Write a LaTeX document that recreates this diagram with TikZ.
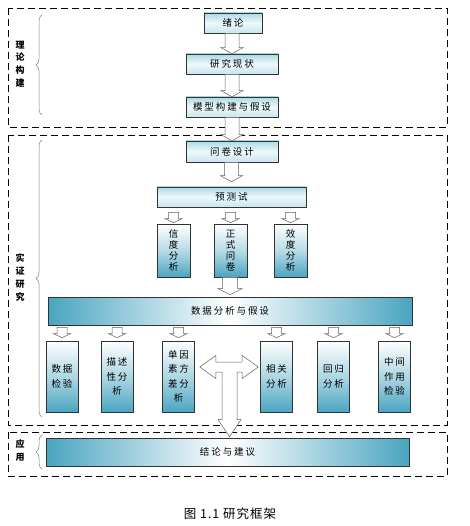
\documentclass[tikz,border=0pt]{standalone}
\usepackage{fontspec}
\newfontfamily\cjk[LetterSpace=20]{Noto Sans CJK SC}
\newfontfamily\cjkcap{Noto Sans CJK SC}
\newfontfamily\cjkcaption[LetterSpace=8]{Noto Sans CJK SC}
\usetikzlibrary{calc,decorations.pathreplacing}
\definecolor{teal1}{HTML}{4AA5C1}
\definecolor{lb1}{HTML}{ADD9E5}
\definecolor{lb2}{HTML}{EEF8FB}
\definecolor{lb3}{HTML}{C6E6EE}
\definecolor{edge}{HTML}{333333}
\definecolor{arrowgray}{HTML}{606060}
\tikzset{
  topbox/.style={draw=edge, line width=0.6pt, inner sep=0pt, top color=lb1, bottom color=lb3, middle color=lb2, font=\cjk\fontsize{9.5}{11}\selectfont},
  tallbox/.style={draw=edge, line width=0.6pt, inner sep=0pt, top color=white, bottom color=teal1, middle color=white!60!teal1, align=center, minimum width=33pt, font=\cjk\fontsize{9.5}{11}\selectfont},
  lowbox/.style={draw=edge, line width=0.6pt, inner sep=0pt, top color=white, bottom color=teal1, middle color=white!55!teal1, align=center, minimum width=32pt, minimum height=71pt, font=\cjk\fontsize{9.5}{14.5}\selectfont},
  widebox/.style={draw=edge, line width=0.6pt, inner sep=0pt, left color=teal1, right color=teal1, middle color=white, font=\cjk\fontsize{9.5}{11}\selectfont},
  groupbox/.style={draw=black, line width=0.8pt, dash pattern=on 7pt off 4pt},
  sidelabel/.style={align=center, font=\cjkcap\bfseries\fontsize{9}{12.7}\selectfont},
  bracestyle/.style={draw=gray, line width=0.5pt, decorate, decoration={brace, amplitude=6pt}},
  barrowstyle/.style={draw=arrowgray, fill=white, line width=0.5pt, line join=miter},
}
% #1 source, #2 target, #3 start gap, #4 end gap, #5 half shaft, #6 half head, #7 head length
\newcommand\barrow[7]{%
  \draw[barrowstyle] let \p1=(#1.south), \p2=(#2.north) in
    (\x2-#5pt,\y1-#3pt) -- (\x2-#5pt,\y2+#4pt+#7pt) -- (\x2-#6pt,\y2+#4pt+#7pt) -- (\x2,\y2+#4pt)
    -- (\x2+#6pt,\y2+#4pt+#7pt) -- (\x2+#5pt,\y2+#4pt+#7pt) -- (\x2+#5pt,\y1-#3pt) -- cycle;}
\begin{document}
\begin{tikzpicture}[x=1pt,y=-1pt]
\useasboundingbox (0,0) rectangle (469,526);
% group boxes
\draw[groupbox] (8,8) rectangle (447,127);
\draw[groupbox] (8,135) rectangle (447,425);
\draw[groupbox] (8,432) rectangle (447,476);
% braces
\draw[bracestyle] (42,115) -- (42,15);
\draw[bracestyle] (42,417) -- (42,140);
\draw[bracestyle] (42,469) -- (42,435);
% side labels
\node[sidelabel] (lab1) at (20,64) {理\\论\\构\\建};
\node[sidelabel] (lab2) at (20,277.5) {实\\证\\研\\究};
\node[sidelabel] (lab3) at (20,450.5) {应\\用};
% top chain
\node[topbox, minimum width=58pt, minimum height=20pt] (xulun) at (233,23) {绪论};
\node[topbox, minimum width=92pt, minimum height=20pt] (yjxz) at (232,64) {研究现状};
\node[topbox, minimum width=92pt, minimum height=20pt] (mxgj) at (232,107) {模型构建与假设};
\node[topbox, minimum width=92pt, minimum height=21pt] (wjsj) at (232,151.5) {问卷设计};
\node[topbox, minimum width=149pt, minimum height=20pt] (ycs) at (231.5,197) {预测试};
% tall boxes
\node[tallbox, minimum height=53pt] (xdfx) at (173.5,250.5) {信\\度\\分\\析};
\node[tallbox, minimum height=53pt] (zswj) at (230.5,250.5) {正\\式\\问\\卷};
\node[tallbox, minimum height=53pt] (xiaodu) at (290.5,250.5) {效\\度\\分\\析};
% data analysis bar
\node[widebox, minimum width=364pt, minimum height=28pt] (sjfx) at (230,311) {数据分析与假设};
% low boxes
\node[lowbox] (sjjy) at (62,376.5) {数据\\检验};
\node[lowbox] (msx) at (117,376.5) {描述\\性分\\析};
\node[lowbox] (dyys) at (178.5,376.5) {单因\\素方\\差分\\析};
\node[lowbox] (xgfx) at (276.5,376.5) {相关\\分析};
\node[lowbox] (hgfx) at (333.5,376.5) {回归\\分析};
\node[lowbox] (zjzy) at (394.5,376.5) {中间\\作用\\检验};
% conclusion bar
\node[widebox, minimum width=363pt, minimum height=28pt] (jljy) at (227.5,452) {结论与建议};
% block arrows
\barrow{xulun}{yjxz}{0}{0}{7}{11}{6}
\barrow{yjxz}{mxgj}{0}{0}{7}{11}{6}
\barrow{mxgj}{wjsj}{0}{0}{7}{11}{6}
\barrow{wjsj}{ycs}{0}{5}{7}{11}{6}
\barrow{ycs}{xdfx}{5}{1}{5}{8.5}{4}
\barrow{ycs}{zswj}{5}{1}{5}{8.5}{4}
\barrow{ycs}{xiaodu}{5}{1}{5}{8.5}{4}
\barrow{zswj}{sjfx}{0}{2}{7.5}{12}{6}
\barrow{sjfx}{sjjy}{2}{3}{5}{8.5}{4}
\barrow{sjfx}{msx}{2}{3}{5}{8.5}{4}
\barrow{sjfx}{dyys}{2}{3}{5}{8.5}{4}
\barrow{sjfx}{xgfx}{2}{3}{5}{8.5}{4}
\barrow{sjfx}{hgfx}{2}{3}{5}{8.5}{4}
\barrow{sjfx}{zjzy}{2}{3}{5}{8.5}{4}
% T-shaped arrow
\draw[barrowstyle] let \p1=(dyys.east), \p2=(xgfx.west), \p3=(jljy.north),
  \p4=($(dyys.east)!0.5!(xgfx.west)$) in
  (\x1+5pt,\y4+9.5pt) -- (\x1+21pt,\y4+21pt) -- (\x1+21pt,\y4+14.5pt) -- (\x2-18pt,\y4+14.5pt)
  -- (\x2-18pt,\y4+21pt) -- (\x2-2pt,\y4+9.5pt) -- (\x2-18pt,\y4-2pt) -- (\x2-18pt,\y4+4.5pt)
  -- (\x4+9.5pt,\y4+4.5pt) -- (\x4+9.5pt,\y3+18pt) -- (\x4+13.5pt,\y3+18pt) -- (\x4+2pt,\y3+1pt)
  -- (\x4-9.5pt,\y3+18pt) -- (\x4-5.5pt,\y3+18pt) -- (\x4-5.5pt,\y4+4.5pt) -- (\x1+21pt,\y4+4.5pt)
  -- (\x1+21pt,\y4-2pt) -- cycle;
% caption
\node[font=\cjkcaption\fontsize{12.5}{14}\selectfont] (cap) at (230,514) {图 1.1 研究框架};
\end{tikzpicture}
\end{document}
